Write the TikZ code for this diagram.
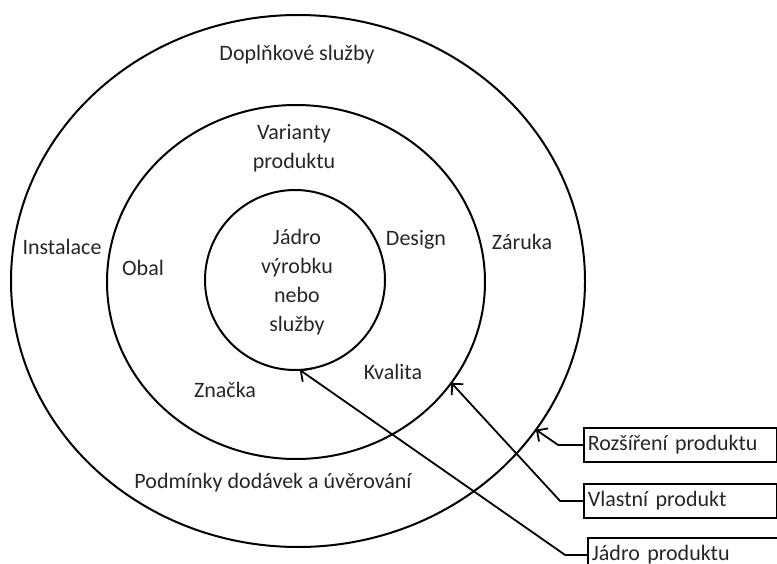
\documentclass[tikz,border=0pt]{standalone}
\usepackage{fontspec}
\setmainfont{Carlito}
\usetikzlibrary{shapes.geometric,arrows.meta}

\begin{document}
\begin{tikzpicture}[x=1pt,y=-1pt,
  ring/.style={draw, ellipse, line width=2pt, inner sep=0pt, outer sep=0pt},
  txt/.style={font=\fontsize{22}{29}\selectfont, text=black!85, align=center, inner sep=0pt},
  tagbox/.style={draw, line width=1.8pt, anchor=north west, minimum height=34pt,
    inner xsep=4pt, text width=185pt, align=left, font=\fontsize{22}{29}\selectfont, text=black!85},
  pointer/.style={line width=1.8pt, -{Straight Barb[length=8pt,width=16pt,line width=1.8pt]}}]
  \useasboundingbox (0,0) rectangle (777,564);
  % draw the three rings
  \node[ring, minimum width=574pt, minimum height=532pt] (outer) at (298,281) {};
  \node[ring, minimum width=378pt, minimum height=354pt] (middle) at (296,282) {};
  \node[ring, minimum width=180pt, minimum height=180pt] (inner) at (295,280) {};
  % texts in the rings
  \node[txt] (doplnk) at (297,55) {Doplňkové služby};
  \node[txt] (instal) at (62,247) {Instalace};
  \node[txt] (zaruka) at (522,242) {Záruka};
  \node[txt] (podminky) at (273,483) {Podmínky dodávek a úvěrování};
  \node[txt] (varianty) at (294,148) {Varianty\\produktu};
  \node[txt] (obal) at (143,268) {Obal};
  \node[txt] (design) at (416,240) {Design};
  \node[txt] (kvalita) at (393,372) {Kvalita};
  \node[txt] (znacka) at (225,390) {Značka};
  \node[txt] (jadro) at (297,282) {Jádro\\výrobku\\nebo\\služby};
  % boxes on the right
  \node[tagbox] (rozsir) at (583,427) {Rozšíření produktu};
  \node[tagbox] (vlastni) at (583,483) {Vlastní produkt};
  \node[tagbox] (jadrop) at (587,537) {Jádro produktu};
  % pointers
  \draw[pointer] (rozsir.west) -- ++(-25,0) -- (outer.-32);
  \draw[pointer] (vlastni.west) -- ++(-23,0) -- (middle.-33);
  \draw[pointer] (jadrop.west) -- ++(-22,0) -- (inner.-87);
\end{tikzpicture}
\end{document}
